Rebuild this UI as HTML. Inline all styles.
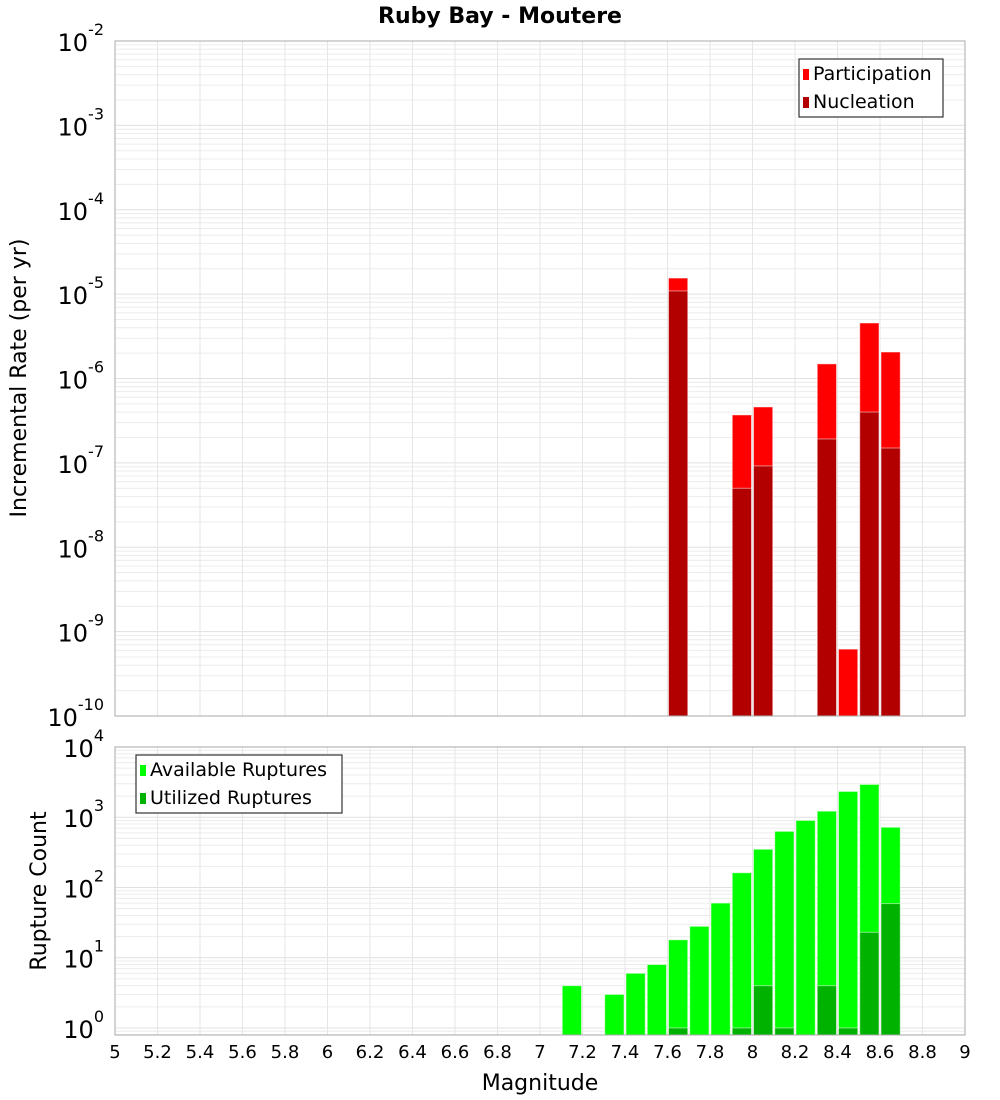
<!DOCTYPE html>
<html><head><meta charset="utf-8"><style>
html,body{margin:0;padding:0;background:#fff;}
svg{display:block;font-family:"DejaVu Sans","Liberation Sans",sans-serif;}
</style></head><body>
<svg id="chart" width="1000" height="1100" xmlns="http://www.w3.org/2000/svg">
<text x="500" y="23" text-anchor="middle" font-size="22" font-weight="bold">Ruby Bay - Moutere</text>
<g id="top"></g><g id="bot"></g>
<text transform="translate(26,378) rotate(-90)" text-anchor="middle" font-size="22">Incremental Rate (per yr)</text>
<text transform="translate(46,891) rotate(-90)" text-anchor="middle" font-size="22">Rupture Count</text>
<text x="540" y="1090" text-anchor="middle" font-size="22">Magnitude</text>
</svg>
<script>
const binsTop = [7.65, 7.95, 8.05, 8.35, 8.45, 8.55, 8.65];
const participation = [1.55e-5, 3.7e-7, 4.6e-7, 1.49e-6, 6.2e-10, 4.55e-6, 2.06e-6];
const nucleation = [1.09e-5, 5.0e-8, 9.2e-8, 1.92e-7, 0, 4.0e-7, 1.5e-7];
const binsBot = [7.15, 7.35, 7.45, 7.55, 7.65, 7.75, 7.85, 7.95, 8.05, 8.15, 8.25, 8.35, 8.45, 8.55, 8.65];
const available = [4, 3, 6, 8, 18, 28, 60, 162, 350, 630, 900, 1220, 2330, 2930, 720];
const utilized = [0, 0, 0, 0, 1, 0, 0, 1, 4, 1, 0, 4, 1, 23, 59];
const xTicks = ["5","5.2","5.4","5.6","5.8","6","6.2","6.4","6.6","6.8","7","7.2","7.4","7.6","7.8","8","8.2","8.4","8.6","8.8","9"];
const topDecades = [-2,-3,-4,-5,-6,-7,-8,-9,-10];
const botDecades = [4,3,2,1,0];

const NS = "http://www.w3.org/2000/svg";
const X0=115, X1=965;
const xs = m => X0 + (m-5)/4*(X1-X0);
function mk(parent, tag, attrs){const e=document.createElementNS(NS,tag);for(const k in attrs)e.setAttribute(k,attrs[k]);parent.appendChild(e);return e;}

function panel(g, top, bottom, lmax, lmin, name){
  const ys = v => top + (lmax - Math.log10(v))/(lmax-lmin)*(bottom-top);
  // minor horizontal grid
  for(let d=Math.floor(lmin); d<lmax; d++){
    for(let k=1;k<10;k++){
      const l = d+Math.log10(k);
      if(l<lmin||l>lmax) continue;
      const y=ys(Math.pow(10,l));
      const ln=mk(g,'line',{x1:X0,x2:X1,y1:y,y2:y,stroke:k==1?'#e0e0e0':'#ececec','stroke-width':1});
      
      
    }
  }
  for(let i=0;i<xTicks.length;i++){
    const x=xs(+xTicks[i]);
    const ln=mk(g,'line',{x1:x,x2:x,y1:top,y2:bottom,stroke:'#e6e6e6','stroke-width':1});
    
    
  }
  return ys;
}
function bar(g, m, v, ys, bottom, fill, name){
  if(!(v>0)) return;
  const x=xs(m-0.05)+1, w=xs(m+0.05)-xs(m-0.05)-2;
  const y=Math.max(ys(v), 0);
  const r=mk(g,'rect',{x:x,y:y,width:w,height:bottom-y,fill:fill,stroke:'#ffffff','stroke-opacity':0.5,'stroke-width':1});
  
  
}
function ylabels(g, decades, ys, x, name){
  decades.forEach(d=>{
    const y=ys(Math.pow(10,d));
    const t=mk(g,'text',{x:x,y:y+10,'text-anchor':'end','font-size':24});
    
    
    t.textContent='10';
    const s=mk(t,'tspan',{dy:-16,'font-size':16});
    s.textContent=String(d);
  });
}
function frame(g, top, bottom, name){
  const r=mk(g,'rect',{x:X0,y:top,width:X1-X0,height:bottom-top,fill:'none',stroke:'#aaaaaa','stroke-width':1});
  
  
}
function legend(g,x,y,w,items,name){
  const b=mk(g,'rect',{x:x,y:y,width:w,height:58,fill:'#fff',stroke:'#333','stroke-width':1.2});
  
  
  items.forEach((it,i)=>{
    const sw=mk(g,'rect',{x:x+4,y:y+10+i*28,width:6,height:11,fill:it[1]});
    
    
    const t=mk(g,'text',{x:x+14,y:y+21+i*28,'font-size':19});
    
    
    t.textContent=it[0];
  });
}

// top panel
const gt=document.getElementById('top');
const T0=41,T1=716;
const yt=panel(gt,T0,T1,-2,-10,'top');
binsTop.forEach((m,i)=>bar(gt,m,participation[i],yt,T1,'#ff0000','participation-bar'));
binsTop.forEach((m,i)=>bar(gt,m,nucleation[i],yt,T1,'#b20000','nucleation-bar'));
frame(gt,T0,T1,'top');
ylabels(gt,topDecades,yt,104,'top');
legend(gt,799,59,144,[['Participation','#ff0000'],['Nucleation','#b20000']],'top-legend');

// bottom panel
const gb=document.getElementById('bot');
const B0=747,B1=1035;
const yb=panel(gb,B0,B1,4.0,-0.1,'bottom');
binsBot.forEach((m,i)=>bar(gb,m,available[i],yb,B1,'#00ff00','available-bar'));
binsBot.forEach((m,i)=>bar(gb,m,utilized[i],yb,B1,'#00b200','utilized-bar'));
frame(gb,B0,B1,'bottom');
ylabels(gb,botDecades,yb,104,'bottom');
legend(gb,136,755,206,[['Available Ruptures','#00ff00'],['Utilized Ruptures','#00b200']],'bottom-legend');

xTicks.forEach(l=>{
  const t=mk(gb,'text',{x:xs(+l),y:1058,'text-anchor':'middle','font-size':18});
  
  
  t.textContent=l;
});
</script>
</body></html>
